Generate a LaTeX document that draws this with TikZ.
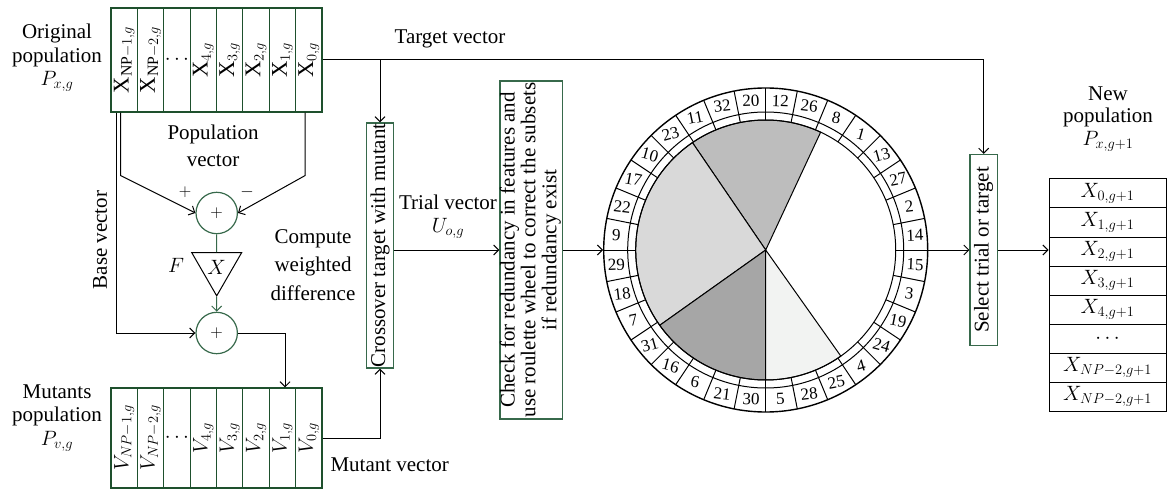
\documentclass[tikz,border=0pt]{standalone}
\usepackage{fontspec}
\setmainfont{Liberation Serif}
\usetikzlibrary{arrows.meta,shapes.geometric}
\definecolor{cellgreen}{RGB}{30,80,45}
\definecolor{boxgreen}{RGB}{55,105,75}
\definecolor{sliceA}{RGB}{189,189,189}
\definecolor{sliceB}{RGB}{217,217,217}
\definecolor{sliceC}{RGB}{166,166,166}
\definecolor{sliceD}{RGB}{242,243,242}

\begin{document}
\begin{tikzpicture}
[x=1pt,y=-1pt,line width=1pt,%
  every node/.style={font=\fontsize{21}{23}\selectfont,inner sep=0pt},%
  cell/.style={draw=cellgreen,line width=1.2pt,minimum width=26.375pt,font=\fontsize{22.5}{23}\selectfont},%
  gbox/.style={draw=boxgreen,line width=1.2pt},%
  sumnode/.style={circle,draw=boxgreen,line width=1.2pt,minimum size=41.4pt,font=\fontsize{17}{17}\selectfont},%
  arr/.style={-{Straight Barb[length=5pt,width=10pt]}},%
  row/.style={draw,minimum width=117pt,minimum height=29pt},%
  num/.style={font=\fontsize{17}{17}\selectfont}]
\useasboundingbox (0,0) rectangle (1167,489);

\foreach \lab [count=\i] in {%
  {\rotatebox{90}{$\mathrm{X}_{\mathrm{NP}-1,g}$}},{\rotatebox{90}{$\mathrm{X}_{\mathrm{NP}-2,g}$}},%
  {$\cdots$},{\rotatebox{90}{$\mathrm{X}_{4,g}$}},{\rotatebox{90}{$\mathrm{X}_{3,g}$}},%
  {\rotatebox{90}{$\mathrm{X}_{2,g}$}},{\rotatebox{90}{$\mathrm{X}_{1,g}$}},{\rotatebox{90}{$\mathrm{X}_{0,g}$}}}
  \node[cell,minimum height=104pt] (x\i) at (97.8+26.375*\i,60) {\lab};
\foreach \lab [count=\i] in {%
  {\rotatebox{90}{$V_{NP-1,g}$}},{\rotatebox{90}{$V_{NP-2,g}$}},%
  {$\cdots$},{\rotatebox{90}{$V_{4,g}$}},{\rotatebox{90}{$V_{3,g}$}},%
  {\rotatebox{90}{$V_{2,g}$}},{\rotatebox{90}{$V_{1,g}$}},{\rotatebox{90}{$V_{0,g}$}}}
  \node[cell,minimum height=100pt] (v\i) at (97.8+26.375*\i,438) {\lab};

\node[align=center,font=\fontsize{21}{23.5}\selectfont] (orig) at (57,58) {Original\\population\\$P_{x,g}$};
\node[align=center,font=\fontsize{21}{23.5}\selectfont] (mutp) at (57,418) {Mutants\\population\\$P_{v,g}$};
\node[align=center,font=\fontsize{21}{27}\selectfont] (popv) at (213,146) {Population\\vector};

\node[sumnode] (sum1) at (216.7,213) {$+$};
\node[regular polygon,regular polygon sides=3,shape border rotate=180,draw,minimum size=57.7pt] (mult) at (216.7,267) {$X$};
\node[sumnode] (sum2) at (216.7,333) {$+$};
\node[font=\fontsize{17}{17}\selectfont] (plus) at (185,192) {$+$};
\node[font=\fontsize{17}{17}\selectfont] (minus) at (247,192) {$-$};
\node (F) at (176,265) {$F$};
\node[rotate=90] (basev) at (100,240) {Base vector};
\node[align=center,font=\fontsize{21}{28.5}\selectfont] (diff) at (313,265) {Compute\\weighted\\difference};

\draw[arr] ([xshift=-3.5pt]x1.south) -- ++(0,63) -- (sum1.west);
\draw[arr] ([xshift=-3.8pt]x8.south) -- ++(0,63) -- (sum1.east);
\draw[boxgreen] (sum1.south) -- (mult.north);
\draw[arr,boxgreen] (mult.south) -- (sum2.north);
\draw[arr] ([xshift=-7.5pt]x1.south) |- (sum2.west);
\draw[arr] (sum2.east) -| ([xshift=2.6pt]v7.north);

\node[gbox,minimum width=27pt,minimum height=245pt] (cross) at (380,245.5) {\rotatebox{90}{Crossover target with mutant}};
\node[gbox,minimum width=62.7pt,minimum height=338pt] (check) at (531.3,250)
  {\rotatebox{90}{\def\arraystretch{0.9}\begin{tabular}{@{}c@{}}Check for redundancy in features and\\use roulette wheel to correct the subsets\\if redundancy exist\end{tabular}}};
\node[circle,draw,line width=1.4pt,minimum size=324pt] (wheel) at (765.7,250) {};
\node[gbox,minimum width=27.3pt,minimum height=191pt] (sel) at (983.7,250) {\rotatebox{90}{Select trial or target}};

\node (targ) at (450,39) {Target vector};
\node[align=center] (trial) at (448,217) {Trial vector\\$U_{o,g}$};
\node[anchor=west] (mutv) at (330,465) {Mutant vector};

\draw[arr] (x8.east) -| (sel.north);
\draw[arr] (cross.north |- x8.east) -- (cross.north);
\draw[arr] (v8.east) -| (cross.south);
\draw[arr] (cross.east |- check.west) -- (check.west);
\draw[arr] (check.east) -- (wheel.west);
\draw[arr] (wheel.east) -- (sel.west);

\filldraw[fill=sliceA] (wheel.center) -- ([shift={(-65:130)}]wheel.center) arc[start angle=-65,end angle=-124.3,radius=130] -- cycle;
\filldraw[fill=sliceB] (wheel.center) -- ([shift={(-124.3:130)}]wheel.center) arc[start angle=-124.3,end angle=-215.4,radius=130] -- cycle;
\filldraw[fill=sliceC] (wheel.center) -- ([shift={(-215.4:130)}]wheel.center) arc[start angle=-215.4,end angle=-270,radius=130] -- cycle;
\filldraw[fill=sliceD] (wheel.center) -- ([shift={(-270:130)}]wheel.center) arc[start angle=-270,end angle=-305.3,radius=130] -- cycle;
\draw (wheel.center) circle[radius=130];
\draw (wheel.center) circle[radius=138];
\foreach \k in {0,...,31}
  \draw ([shift={({\k*11.25}:130)}]wheel.center) -- ([shift={({\k*11.25}:162)}]wheel.center);
\foreach \nr [count=\i from 0] in {12,26,8,1,13,27,2,14,15,3,19,24,4,25,28,5,30,21,6,16,31,7,18,29,9,22,17,10,23,11,32,20} {
  \pgfmathsetmacro\ang{90-(\i+0.5)*11.25}
  \pgfmathsetmacro\tilt{0.4*(mod(\ang+675,90)-45)}
  \node[num,rotate=\tilt] (n\nr) at ([shift={({-\ang}:150)}]wheel.center) {\nr};
}

\node[align=center,font=\fontsize{21}{22.5}\selectfont] (newp) at (1108,119) {New\\population\\$P_{x,g+1}$};
\foreach \lab [count=\k] in {{$X_{0,g+1}$},{$X_{1,g+1}$},{$X_{2,g+1}$},{$X_{3,g+1}$},{$X_{4,g+1}$},{$\cdots$},{$X_{NP-2,g+1}$},{$X_{NP-2,g+1}$}}
  \node[row] (t\k) at (1107.5,164.5+29*\k) {\lab};
\draw[arr] (sel.east) -- (sel.east -| t3.west);
\end{tikzpicture}
\end{document}
